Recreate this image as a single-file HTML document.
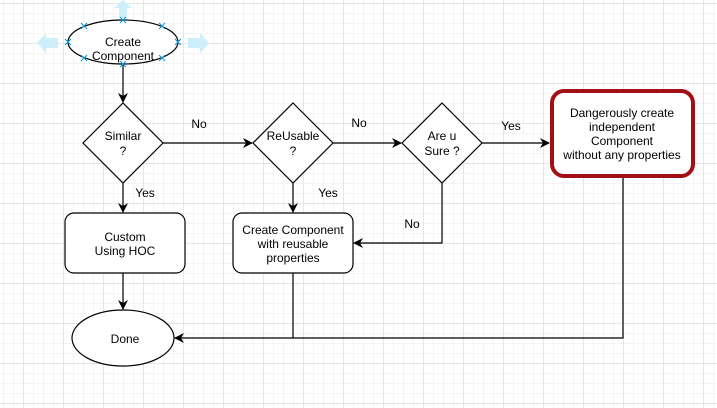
<!DOCTYPE html>
<html><head><style>
html,body{margin:0;padding:0;background:#fff;}
body{width:717px;height:408px;overflow:hidden;}
svg{display:block;}
text{font-family:"Liberation Sans",Arial,sans-serif;font-size:12px;fill:#000;}
</style></head><body>
<svg width="717" height="408" viewBox="0 0 717 408" xmlns="http://www.w3.org/2000/svg">
<defs>
<pattern id="minor" x="3" y="3" width="10" height="10" patternUnits="userSpaceOnUse">
<path d="M0 0.5H10M0.5 0V10" stroke="#f4f4f4" stroke-width="1" fill="none"/>
</pattern>
<pattern id="major" x="23" y="3" width="40" height="40" patternUnits="userSpaceOnUse">
<path d="M0 0.5H40M0.5 0V40" stroke="#e6e6e6" stroke-width="1" fill="none"/>
</pattern>
<marker id="ar" markerWidth="10" markerHeight="10" refX="9" refY="5" orient="auto" markerUnits="userSpaceOnUse">
<path d="M0 0L10 5L0 10L3 5Z" fill="#000"/>
</marker>
</defs>
<rect width="717" height="408" fill="#fff"/>
<rect width="717" height="408" fill="url(#minor)"/>
<rect width="717" height="408" fill="url(#major)"/>

<g fill="#cdeefb">
<path d="M119 18V8H114L123 0L132 8H127V18Z"/>
<path d="M58 38H46V33L37 43L46 53V48H58Z"/>
<path d="M188 38H200V33L209 43L200 53V48H188Z"/>
</g>

<g fill="none" stroke="#000" stroke-width="1.2">
<ellipse cx="123" cy="42" rx="55" ry="22" fill="#fff"/>
<path d="M123 64V102" marker-end="url(#ar)"/>
<path d="M123 103L163 143L123 183L83 143Z" fill="#fff"/>
<path d="M293 103L333 143L293 183L253 143Z" fill="#fff"/>
<path d="M442 103L482 143L442 183L402 143Z" fill="#fff"/>
<path d="M163 143H252" marker-end="url(#ar)"/>
<path d="M333 143H401" marker-end="url(#ar)"/>
<path d="M482 143H549" marker-end="url(#ar)"/>
<path d="M123 183V212" marker-end="url(#ar)"/>
<path d="M293 183V212" marker-end="url(#ar)"/>
<path d="M442 183V243H354" marker-end="url(#ar)"/>
<rect x="65" y="213" width="120" height="60" rx="9" fill="#fff"/>
<rect x="233" y="213" width="120" height="60" rx="9" fill="#fff"/>
<path d="M123 273V309" marker-end="url(#ar)"/>
<ellipse cx="123" cy="338" rx="51" ry="28" fill="#fff"/>
<path d="M293 273V338"/>
<path d="M623 177V338H175" marker-end="url(#ar)"/>
</g>
<rect x="552" y="91" width="141" height="85" rx="12" fill="#fff" stroke="#a20f14" stroke-width="4"/>

<g stroke="#1a9fd9" stroke-width="1.2">
<path d="M120 17l6 6M126 17l-6 6"/>
<path d="M120 61l6 6M126 61l-6 6"/>
<path d="M65 39l6 6M71 39l-6 6"/>
<path d="M175 39l6 6M181 39l-6 6"/>
<path d="M81 23l6 6M87 23l-6 6"/>
<path d="M159 23l6 6M165 23l-6 6"/>
<path d="M81 55l6 6M87 55l-6 6"/>
<path d="M159 55l6 6M165 55l-6 6"/>
</g>

<g text-anchor="middle">
<text x="123" y="46">Create</text>
<text x="123" y="60">Component</text>
<text x="123" y="140">Similar</text>
<text x="123" y="155">?</text>
<text x="293" y="140">ReUsable</text>
<text x="293" y="155">?</text>
<text x="442" y="140">Are u</text>
<text x="442" y="155">Sure ?</text>
<text x="125" y="241">Custom</text>
<text x="125" y="255">Using HOC</text>
<text x="293" y="234">Create Component</text>
<text x="293" y="248">with reusable</text>
<text x="293" y="262">properties</text>
<text x="125" y="343">Done</text>
<text x="622" y="117">Dangerously create</text>
<text x="622" y="131">independent</text>
<text x="622" y="145">Component</text>
<text x="622" y="159">without any properties</text>
<text x="199" y="128">No</text>
<text x="359" y="127">No</text>
<text x="511" y="130">Yes</text>
<text x="145" y="197">Yes</text>
<text x="328" y="197">Yes</text>
<text x="412" y="228">No</text>
</g>
</svg>
</body></html>
